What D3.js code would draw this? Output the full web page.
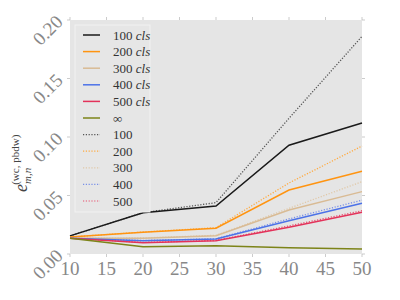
<!DOCTYPE html>
<html><head><meta charset="utf-8">
<script src="https://cdn.jsdelivr.net/npm/d3@7"></script>
<style>body{margin:0;background:#fff}svg{display:block}</style>
</head><body>
<script>
const xs = [10, 20, 30, 40, 50];
const seriesNames = ["100 cls","200 cls","300 cls","400 cls","500 cls","∞","100","200","300","400","500"];
const s100cls = [0.0155, 0.0353, 0.0410, 0.0930, 0.1120];
const s200cls = [0.0145, 0.0185, 0.0220, 0.0547, 0.0707];
const s300cls = [0.0135, 0.0135, 0.0157, 0.0376, 0.0533];
const s400cls = [0.0135, 0.0114, 0.0128, 0.0285, 0.0433];
const s500cls = [0.0135, 0.0097, 0.0114, 0.0228, 0.0356];
const sInf    = [0.0135, 0.0063, 0.0071, 0.0054, 0.0043];
const d100 = [0.0155, 0.0353, 0.0439, 0.1160, 0.1860];
const d200 = [0.0145, 0.0188, 0.0225, 0.0607, 0.0923];
const d300 = [0.0135, 0.0137, 0.0160, 0.0390, 0.0618];
const d400 = [0.0135, 0.0116, 0.0130, 0.0300, 0.0460];
const d500 = [0.0135, 0.0099, 0.0116, 0.0240, 0.0370];
const xTicks = [10,15,20,25,30,35,40,45,50];
const yTicks = [0.00,0.05,0.10,0.15,0.20];

const allSeries = [s100cls,s200cls,s300cls,s400cls,s500cls,sInf,d100,d200,d300,d400,d500];
const colors = ["#1a1a1a","#ff9411","#d9bb94","#4c72e8","#e3325a","#7d8419","#555555","#ffaa40","#e0c8a8","#7890e8","#e8506e"];
const dashed = [false,false,false,false,false,false,true,true,true,true,true];

const W=400,H=300, L=70, R=362, T=20, B=254;
const svg = d3.select("body").append("svg").attr("width",W).attr("height",H);
const x = d3.scaleLinear().domain([10,50]).range([L,R]);
const y = d3.scaleLinear().domain([0,0.2]).range([B,T]);
const font = "'Liberation Serif', 'DejaVu Serif', serif";

svg.append("rect").attr("x",L).attr("y",T).attr("width",R-L).attr("height",B-T).attr("fill","#e5e5e5");

// ticks
const tk = svg.append("g").attr("stroke","#aaa").attr("stroke-width",0.6);
xTicks.forEach(t=>{
  tk.append("line").attr("x1",x(t)).attr("x2",x(t)).attr("y1",B).attr("y2",B+3);
  tk.append("line").attr("x1",x(t)).attr("x2",x(t)).attr("y1",T).attr("y2",T-3);
});
yTicks.forEach(t=>{
  tk.append("line").attr("x1",L).attr("x2",L-3).attr("y1",y(t)).attr("y2",y(t));
  tk.append("line").attr("x1",R).attr("x2",R+3).attr("y1",y(t)).attr("y2",y(t));
});

svg.append("g").selectAll("text").data(xTicks).join("text")
  .attr("x",d=>x(d)).attr("y",B+21).attr("text-anchor","middle")
  .style("font-family",font).attr("font-size",19).attr("fill","#888")
  .text(d=>d);
svg.append("g").selectAll("text").data(yTicks).join("text")
  .attr("transform",d=>`translate(${L-6},${y(d)+3}) rotate(-45)`)
  .attr("text-anchor","end")
  .style("font-family",font).attr("font-size",19).attr("fill","#888")
  .text(d=>d.toFixed(2));

// y label
const yl = svg.append("text").attr("transform","translate(27,192) rotate(-90)")
  .style("font-family",font).attr("fill","#444");
yl.append("tspan").attr("font-style","italic").attr("font-size",18).text("e");
yl.append("tspan").attr("font-style","italic").attr("font-size",11).attr("dy",4).text("m,n");
yl.append("tspan").attr("font-size",11).attr("dx",-17).attr("dy",-12).text("(wc, pbdw)");

// lines
const line = d3.line().x((d,i)=>x(xs[i])).y(d=>y(d));
const order = [6,7,8,9,10,0,1,2,3,4,5];
const lg = svg.append("g");
order.forEach(k=>{
  lg.append("path").attr("d",line(allSeries[k])).attr("fill","none")
    .attr("stroke",colors[k]).attr("stroke-width",dashed[k]?1.3:1.5)
    .attr("stroke-dasharray",dashed[k]?"1.2,1.6":null);
});

// legend
const leg = svg.append("g");
leg.append("rect").attr("x",75).attr("y",25).attr("width",75).attr("height",187)
  .attr("fill","#e6e6e6").attr("stroke","#f2f2f2").attr("stroke-width",1);
seriesNames.forEach((n,i)=>{
  const yy = 35 + i*16.6;
  leg.append("line").attr("x1",83).attr("x2",100).attr("y1",yy).attr("y2",yy)
    .attr("stroke",colors[i]).attr("stroke-width",dashed[i]?1.2:1.5)
    .attr("stroke-dasharray",dashed[i]?"1.2,1.6":null);
  const t = leg.append("text").attr("x",113).attr("y",yy+4.5)
    .style("font-family",font).attr("font-size",13).attr("fill","#333");
  if (n.endsWith(" cls")) {
    t.append("tspan").text(n.split(" ")[0]+" ");
    t.append("tspan").attr("font-style","italic").text("cls");
  } else t.text(n);
});
</script>
</body></html>
